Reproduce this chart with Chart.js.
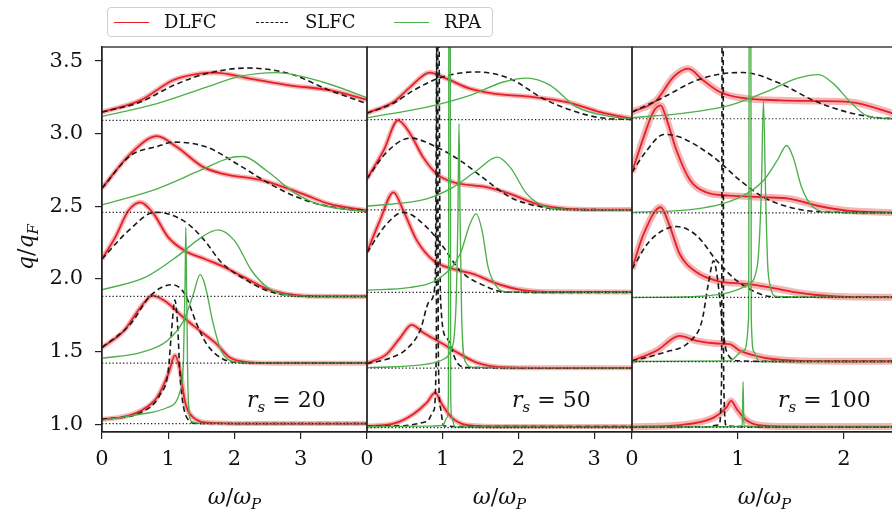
<!DOCTYPE html>
<html><head><meta charset="utf-8">
<script src="https://cdn.jsdelivr.net/npm/chart.js@4.4.0/dist/chart.umd.min.js"></script>
<style>
html,body{margin:0;padding:0;background:#fff;overflow:hidden}
#wrap{position:relative;width:892px;height:512px;overflow:hidden}
#wrap canvas{position:absolute;top:0;left:0}
#legend{position:absolute;left:107px;top:7px;width:384px;height:28px;border:1px solid #d0d0d0;border-radius:4px;background:rgba(255,255,255,.9);font-family:'DejaVu Serif',serif;font-size:18px;color:#111;z-index:5}
#legend .ln{position:absolute;top:14px;width:35px;height:0}
#legend .tx{position:absolute;top:2px;line-height:24px}
</style>
</head><body>
<div id="wrap">
  <canvas id="c20" width="892" height="512"></canvas>
  <canvas id="c50" width="892" height="512"></canvas>
  <canvas id="c100" width="897" height="512"></canvas>
  <div id="legend">
    <span class="ln" style="left:6px;border-top:1.8px solid #e4202a"></span><span class="tx" style="left:56px">DLFC</span>
    <span class="ln" style="left:148px;width:32px;border-top:1.8px dashed #1a1a1a"></span><span class="tx" style="left:197px">SLFC</span>
    <span class="ln" style="left:286px;border-top:1.5px solid #4daf4a"></span><span class="tx" style="left:336px">RPA</span>
  </div>
</div>
<script>
// ── values: [omega/omega_P, q/q_F offset curve] ──
const yTicks=[1.0,1.5,2.0,2.5,3.0,3.5];

// r_s = 20
const base20=[1.005,1.421,1.880,2.459,3.092];
const dlfc20=[
  [[0,1.034],[0.3,1.05],[0.58,1.092],[0.83,1.184],[1.0,1.345],[1.1,1.475],[1.18,1.368],[1.25,1.161],[1.38,1.046],[1.63,1.01],[2.2,1.005],[4,1.005]],
  [[0,1.528],[0.33,1.643],[0.58,1.804],[0.76,1.885],[0.98,1.839],[1.23,1.735],[1.48,1.643],[1.73,1.552],[1.93,1.459],[2.18,1.428],[2.6,1.421],[4,1.421]],
  [[0,2.138],[0.2,2.287],[0.4,2.471],[0.58,2.528],[0.78,2.448],[1.0,2.287],[1.25,2.195],[1.55,2.138],[1.8,2.092],[2.15,2.011],[2.5,1.931],[2.9,1.89],[3.3,1.881],[4,1.88]],
  [[0,2.625],[0.43,2.862],[0.83,2.983],[1.13,2.908],[1.53,2.77],[1.83,2.724],[2.43,2.678],[3.03,2.586],[3.43,2.517],[4,2.47]],
  [[0,3.149],[0.58,3.23],[1.08,3.37],[1.48,3.414],[1.7,3.42],[2.23,3.38],[2.83,3.333],[3.43,3.30],[4,3.234]]
];
const slfc20=[
  [[0,1.034],[0.58,1.08],[0.88,1.207],[1.0,1.368],[1.05,1.643],[1.1,1.855],[1.14,1.69],[1.18,1.322],[1.28,1.046],[1.43,1.005],[4,1.005]],
  [[0,1.528],[0.43,1.69],[0.73,1.885],[1.05,1.961],[1.25,1.897],[1.43,1.69],[1.58,1.552],[1.83,1.448],[2.08,1.425],[2.5,1.421],[4,1.421]],
  [[0,2.138],[0.4,2.333],[0.8,2.459],[1.0,2.448],[1.3,2.379],[1.55,2.264],[1.8,2.115],[2.15,2.0],[2.5,1.919],[2.9,1.885],[3.3,1.88],[4,1.88]],
  [[0,2.625],[0.43,2.85],[0.83,2.912],[1.08,2.942],[1.58,2.908],[2.08,2.781],[2.58,2.643],[3.08,2.54],[3.58,2.487],[4,2.47]],
  [[0,3.149],[0.58,3.218],[1.08,3.333],[1.58,3.414],[2.18,3.452],[2.83,3.414],[3.43,3.30],[4,3.207]]
];
const rpa20=[
  [[0,1.027],[0.58,1.069],[0.98,1.114],[1.18,1.23],[1.23,1.45],[1.255,2.0],[1.265,2.356],[1.278,1.9],[1.30,1.2],[1.35,1.02],[1.5,1.006],[4,1.005]],
  [[0,1.455],[0.58,1.494],[0.98,1.574],[1.23,1.712],[1.38,1.897],[1.48,2.03],[1.55,1.966],[1.68,1.69],[1.8,1.506],[2.0,1.43],[2.4,1.421],[4,1.421]],
  [[0,1.926],[0.65,2.011],[1.15,2.161],[1.5,2.287],[1.75,2.338],[2.0,2.264],[2.26,2.057],[2.5,1.942],[2.8,1.89],[3.2,1.88],[4,1.88]],
  [[0,2.51],[0.83,2.621],[1.48,2.747],[1.93,2.834],[2.13,2.843],[2.48,2.747],[2.93,2.586],[3.33,2.506],[4,2.465]],
  [[0,3.119],[0.83,3.207],[1.58,3.321],[2.08,3.395],[2.63,3.421],[3.33,3.356],[4,3.248]]
];

// r_s = 50
const base50=[0.977,1.386,1.908,2.476,3.097];
const dlfc50=[
  [[0,0.988],[0.35,1.004],[0.61,1.069],[0.79,1.149],[0.9,1.218],[0.99,1.138],[1.12,1.046],[1.32,0.995],[1.7,0.985],[3.5,0.984]],
  [[0,1.418],[0.26,1.483],[0.44,1.597],[0.59,1.685],[0.74,1.632],[0.97,1.563],[1.23,1.483],[1.45,1.425],[1.78,1.393],[2.3,1.389],[3.5,1.389]],
  [[0,2.183],[0.17,2.402],[0.35,2.597],[0.48,2.471],[0.66,2.264],[0.88,2.126],[1.14,2.069],[1.41,2.034],[1.67,1.977],[1.98,1.931],[2.4,1.912],[3.5,1.91]],
  [[0,2.69],[0.22,2.885],[0.41,3.092],[0.57,3.0],[0.74,2.839],[0.92,2.724],[1.14,2.666],[1.58,2.632],[1.89,2.586],[2.24,2.517],[2.64,2.483],[3.0,2.478],[3.5,2.478]],
  [[0,3.142],[0.35,3.218],[0.57,3.321],[0.83,3.421],[1.05,3.379],[1.36,3.31],[1.67,3.276],[2.2,3.252],[2.64,3.218],[3.08,3.149],[3.5,3.104]]
];
const slfc50=[
  [[0,0.988],[0.48,0.99],[0.79,1.018],[0.88,1.092],[0.915,1.5],[0.928,6],[0.942,1.5],[0.97,1.115],[1.01,0.99],[1.3,0.984],[3.5,0.984]],
  [[0,1.418],[0.26,1.448],[0.52,1.517],[0.7,1.643],[0.83,1.85],[0.9,1.966],[0.938,5],[0.97,1.873],[1.05,1.597],[1.19,1.425],[1.33,1.39],[3.5,1.389]],
  [[0,2.183],[0.26,2.379],[0.48,2.459],[0.79,2.356],[1.01,2.218],[1.23,2.057],[1.58,1.947],[1.8,1.912],[2.2,1.908],[3.5,1.908]],
  [[0,2.69],[0.26,2.873],[0.57,2.97],[0.92,2.908],[1.23,2.816],[1.58,2.678],[1.89,2.563],[2.33,2.494],[2.8,2.478],[3.5,2.477]],
  [[0,3.142],[0.35,3.21],[0.62,3.3],[0.93,3.379],[1.23,3.418],[1.45,3.425],[1.89,3.379],[2.33,3.241],[2.77,3.149],[3.08,3.11],[3.5,3.098]]
];
const rpa50=[
  [[0,0.985],[0.8,0.987],[1.0,0.992],[1.06,1.05],[1.075,1.2],[1.09,9],[1.105,1.2],[1.12,1.05],[1.16,0.982],[3.5,0.98]],
  [[0,1.39],[0.79,1.414],[1.01,1.448],[1.1,1.5],[1.17,1.75],[1.2,2.4],[1.215,3.07],[1.23,2.4],[1.25,1.75],[1.3,1.43],[1.4,1.392],[3.5,1.388]],
  [[0,1.924],[0.57,1.942],[0.97,2.011],[1.23,2.172],[1.36,2.379],[1.44,2.448],[1.52,2.333],[1.6,2.08],[1.72,1.942],[1.85,1.912],[3.5,1.908]],
  [[0,2.501],[0.79,2.552],[1.14,2.632],[1.45,2.747],[1.72,2.839],[1.89,2.77],[2.11,2.586],[2.38,2.494],[2.7,2.478],[3.5,2.477]],
  [[0,3.11],[0.79,3.183],[1.36,3.264],[1.8,3.356],[2.11,3.383],[2.42,3.333],[2.77,3.183],[3.21,3.119],[3.5,3.1]]
];

// r_s = 100
const base100=[0.981,1.432,1.873,2.455,3.103];
const dlfc100=[
  [[0,0.983],[0.45,0.995],[0.77,1.046],[0.89,1.115],[0.935,1.161],[0.99,1.103],[1.08,1.028],[1.24,0.99],[1.6,0.984],[2.5,0.984]],
  [[0,1.437],[0.23,1.506],[0.45,1.609],[0.61,1.574],[0.8,1.556],[0.92,1.552],[1.02,1.506],[1.24,1.459],[1.5,1.44],[2.0,1.434],[2.5,1.434]],
  [[0,2.069],[0.11,2.31],[0.27,2.494],[0.36,2.356],[0.45,2.172],[0.61,2.046],[0.8,1.988],[1.08,1.966],[1.3,1.942],[1.55,1.908],[1.74,1.89],[2.1,1.876],[2.5,1.875]],
  [[0,2.735],[0.11,2.977],[0.2,3.149],[0.27,3.195],[0.33,3.092],[0.42,2.885],[0.55,2.678],[0.7,2.597],[0.92,2.574],[1.24,2.563],[1.49,2.552],[1.74,2.506],[2.03,2.471],[2.5,2.457]],
  [[0,3.149],[0.23,3.23],[0.39,3.39],[0.53,3.448],[0.67,3.368],[0.83,3.287],[1.02,3.248],[1.4,3.23],[1.74,3.225],[2.06,3.218],[2.45,3.142],[2.5,3.13]]
];
const slfc100=[
  [[0,0.982],[0.7,0.983],[0.82,0.995],[0.845,1.3],[0.855,7],[0.865,1.3],[0.89,0.99],[1.2,0.982],[2.5,0.982]],
  [[0,1.437],[0.3,1.494],[0.55,1.574],[0.66,1.712],[0.72,1.966],[0.77,2.126],[0.805,2.011],[0.846,1.735],[0.89,1.506],[1.0,1.437],[1.3,1.433],[2.5,1.433]],
  [[0,2.069],[0.17,2.264],[0.42,2.361],[0.61,2.299],[0.8,2.126],[0.99,1.988],[1.17,1.908],[1.3,1.88],[1.6,1.874],[2.5,1.874]],
  [[0,2.735],[0.14,2.885],[0.3,2.995],[0.45,2.977],[0.77,2.839],[1.02,2.678],[1.24,2.563],[1.55,2.483],[1.9,2.46],[2.5,2.456]],
  [[0,3.149],[0.3,3.252],[0.61,3.368],[0.86,3.414],[1.05,3.421],[1.4,3.345],[1.71,3.23],[2.03,3.149],[2.33,3.11],[2.5,3.104]]
];
const rpa100=[
  [[0,0.982],[0.9,0.983],[1.04,0.99],[1.048,1.294],[1.056,0.99],[1.2,0.982],[2.5,0.982]],
  [[0,1.432],[0.92,1.437],[1.05,1.506],[1.1,1.735],[1.113,8],[1.125,1.735],[1.15,1.5],[1.2,1.432],[2.5,1.432]],
  [[0,1.873],[0.61,1.88],[0.92,1.908],[1.08,1.954],[1.18,2.08],[1.22,2.6],[1.24,3.23],[1.26,2.6],[1.28,2.1],[1.3,1.966],[1.36,1.88],[2.5,1.873]],
  [[0,2.459],[0.61,2.483],[1.02,2.563],[1.24,2.678],[1.37,2.816],[1.46,2.919],[1.52,2.839],[1.6,2.632],[1.71,2.494],[1.87,2.46],[2.5,2.455]],
  [[0,3.11],[0.45,3.138],[0.92,3.195],[1.3,3.299],[1.55,3.379],[1.76,3.407],[1.9,3.345],[2.06,3.218],[2.21,3.126],[2.4,3.105],[2.5,3.103]]
];

const RED='#e4202a', BAND='rgba(236,90,90,0.45)', GRN='#4daf4a', BLK='#1a1a1a';
const SERIF="'DejaVu Serif', 'Liberation Serif', serif";

// draw italic/sub math pieces as text
function mathText(ctx,parts,x,y,size,align){
  const fnt=p=>(p.it?'italic ':'')+Math.round(p.sub?size*0.7:size)+'px '+SERIF;
  let w=0; parts.forEach(p=>{ctx.font=fnt(p);w+=ctx.measureText(p.t).width;});
  let cx=align==='center'?x-w/2:x;
  ctx.textBaseline='alphabetic'; ctx.textAlign='left'; ctx.fillStyle='#111';
  parts.forEach(p=>{ctx.font=fnt(p);ctx.fillText(p.t,cx,y+(p.sub?size*0.22:0));cx+=ctx.measureText(p.t).width;});
}

function makePanel(id,cfg){
  const xy=pts=>pts.map(p=>({x:p[0],y:p[1]}));
  const line=(pts,o)=>Object.assign({data:xy(pts),pointRadius:0,fill:false,cubicInterpolationMode:'monotone',borderCapStyle:'butt'},o);
  const ds=[];
  cfg.base.forEach(b=>ds.push(line([[0,b],[cfg.xmax,b]],{borderColor:'#222',borderWidth:1.2,borderDash:[1.3,2.2],order:0})));
  cfg.rpa.forEach(c=>ds.push(line(c,{borderColor:GRN,borderWidth:1.35,order:1})));
  cfg.slfc.forEach(c=>ds.push(line(c,{borderColor:BLK,borderWidth:1.6,borderDash:[5.5,3.5],order:2})));
  cfg.dlfc.forEach(c=>ds.push(line(c,{borderColor:RED,borderWidth:1.8,order:3})));
  cfg.dlfc.forEach(c=>ds.push(line(c,{borderColor:BAND,borderWidth:cfg.band,order:4})));

  const deco={id:'deco',afterDraw(ch){
    const a=ch.chartArea,ctx=ch.ctx; ctx.save();
    ctx.strokeStyle='#222';ctx.lineWidth=1.3;ctx.setLineDash([]);
    ctx.strokeRect(a.left,a.top,a.right-a.left,a.bottom-a.top);
    mathText(ctx,[{t:'ω',it:1},{t:'/'},{t:'ω',it:1},{t:'P',it:1,sub:1}],(a.left+a.right)/2,504,22,'center');
    mathText(ctx,[{t:'r',it:1},{t:'s',it:1,sub:1},{t:' = '+cfg.rs}],cfg.labX,407,22,'left');
    if(cfg.yAxis){
      ctx.translate(33,247);ctx.rotate(-Math.PI/2);
      mathText(ctx,[{t:'q',it:1},{t:'/'},{t:'q',it:1},{t:'F',it:1,sub:1}],0,0,22,'center');
    }
    ctx.restore();
  }};

  return new Chart(document.getElementById(id),{
    type:'line',
    data:{datasets:ds},
    options:{
      responsive:false,animation:false,events:[],
      layout:{padding:{left:cfg.padL,right:cfg.padR,top:47,bottom:0}},
      plugins:{legend:{display:false},tooltip:{enabled:false}},
      scales:{
        x:{type:'linear',min:0,max:cfg.xmax,
          afterBuildTicks:s=>{s.ticks=cfg.xt.map(v=>({value:v}));},
          afterFit:s=>{s.height=80;s.paddingLeft=0;s.paddingRight=0;},
          ticks:{color:'#111',font:{family:SERIF,size:21},padding:8,maxRotation:0,callback:v=>String(v)},
          grid:{drawOnChartArea:false,drawTicks:true,tickLength:7,color:'#222',lineWidth:1.2},
          border:{display:true,color:'#222',width:1.3}},
        y:{type:'linear',display:cfg.yAxis,min:0.947,max:3.597,
          afterBuildTicks:s=>{s.ticks=yTicks.map(v=>({value:v}));},
          afterFit:s=>{s.width=cfg.yAxis?102:0;},
          ticks:{color:'#111',font:{family:SERIF,size:21},padding:12,callback:v=>v.toFixed(1)},
          grid:{drawOnChartArea:false,drawTicks:true,tickLength:7,color:'#222',lineWidth:1.2},
          border:{display:true,color:'#222',width:1.3}}
      }
    },
    plugins:[deco]
  });
}

makePanel('c20',{base:base20,dlfc:dlfc20,slfc:slfc20,rpa:rpa20,xmax:4,xt:[0,1,2,3],padL:0,padR:525,yAxis:true,band:5,rs:20,labX:247});
makePanel('c50',{base:base50,dlfc:dlfc50,slfc:slfc50,rpa:rpa50,xmax:3.5,xt:[0,1,2,3],padL:367,padR:260,yAxis:false,band:5,rs:50,labX:512});
makePanel('c100',{base:base100,dlfc:dlfc100,slfc:slfc100,rpa:rpa100,xmax:2.5,xt:[0,1,2],padL:632,padR:0,yAxis:false,band:7,rs:100,labX:778});
</script>
</body></html>
